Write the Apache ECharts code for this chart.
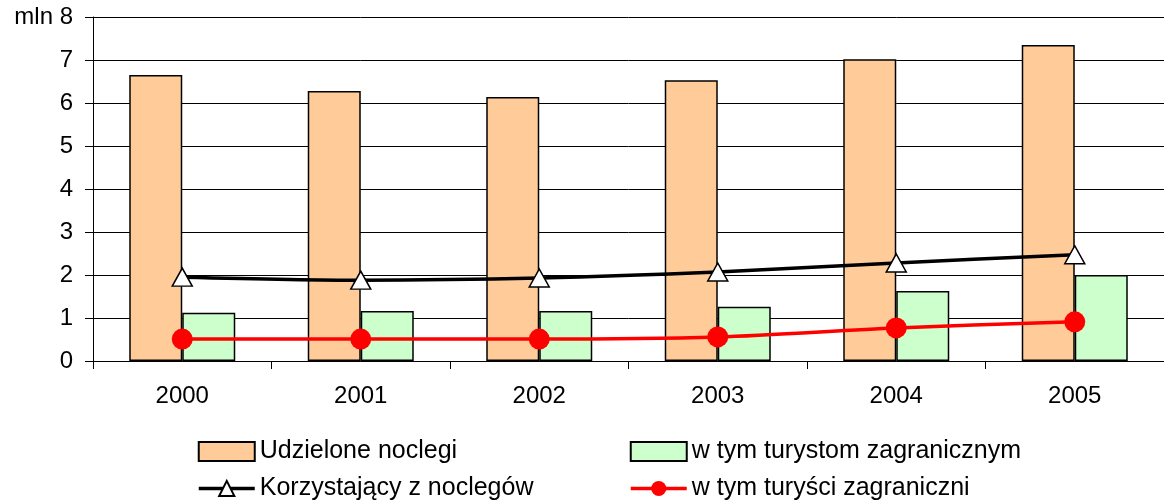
<!DOCTYPE html>
<html><head><meta charset="utf-8">
<script src="https://cdn.jsdelivr.net/npm/echarts@6/dist/echarts.min.js"></script>
<style>html,body{margin:0;padding:0;background:#fff}#c{width:1164px;height:502px}</style>
</head><body><div id="c"></div>
<script>
const years = ['2000','2001','2002','2003','2004','2005'];
const udzielone = [6.65, 6.28, 6.14, 6.53, 7.02, 7.35];
const turystomZagr = [1.12, 1.16, 1.16, 1.26, 1.63, 2.00];
const korzystajacy = [1.95, 1.88, 1.93, 2.07, 2.28, 2.47];
const turysciZagr = [0.51, 0.51, 0.51, 0.56, 0.77, 0.91];
const yTicks = [0,1,2,3,4,5,6,7,8];
const yUnit = 'mln';

const font = '"Liberation Sans", Arial, sans-serif';
const chart = echarts.init(document.getElementById('c'));
const legendText = {fontSize: 25, color: '#000', fontFamily: font, lineHeight: 29};
chart.setOption({
  animation: false,
  textStyle: {fontFamily: font, color: '#000'},
  grid: {left: 93, top: 17, width: 1075, bottom: 141, containLabel: false},
  xAxis: {
    type: 'category', data: years, boundaryGap: true,
    axisLine: {show: true, lineStyle: {color: '#000', width: 1}},
    axisTick: {show: true, length: 8, lineStyle: {color: '#000'}},
    axisLabel: {fontSize: 24, color: '#000', margin: 23, fontFamily: font}
  },
  yAxis: {
    type: 'value', min: yTicks[0], max: yTicks[yTicks.length-1], interval: 1,
    axisLine: {show: true, lineStyle: {color: '#000', width: 1}},
    axisTick: {show: true, length: 8, lineStyle: {color: '#000'}},
    splitLine: {show: true, lineStyle: {color: '#000', width: 1}},
    axisLabel: {fontSize: 24, color: '#000', margin: 20, fontFamily: font,
      formatter: v => v === yTicks[yTicks.length-1] ? yUnit + ' ' + v : String(v)}
  },
  legend: [
    {data: [{name: 'Udzielone noclegi', icon: 'rect'}, 'Korzystający z noclegów'], orient: 'vertical',
     left: 197, top: 437, padding: 0, height: 120, width: 400, itemWidth: 56, itemHeight: 19, itemGap: 8, itemTextGap: 6,
     lineStyle: {width: 3.5}, textStyle: legendText},
    {data: [{name: 'w tym turystom zagranicznym', icon: 'rect'}, 'w tym turyści zagraniczni'], orient: 'vertical',
     left: 629, top: 437, padding: 0, height: 120, width: 500, itemWidth: 56, itemHeight: 19, itemGap: 8, itemTextGap: 7,
     lineStyle: {width: 3.5}, textStyle: legendText}
  ],
  series: [
    {name: 'Udzielone noclegi', type: 'bar', data: udzielone, barWidth: 53, barGap: '0%',
     itemStyle: {color: '#FFCC99', borderColor: '#000', borderWidth: 1.5}},
    {name: 'w tym turystom zagranicznym', type: 'bar', data: turystomZagr, barWidth: 53, barGap: '0%',
     itemStyle: {color: '#CCFFCC', borderColor: '#000', borderWidth: 1.5}},
    {name: 'Korzystający z noclegów', type: 'line', data: korzystajacy, smooth: 0.3,
     symbol: 'triangle', symbolSize: [20, 18],
     lineStyle: {color: '#000', width: 3.5},
     itemStyle: {color: '#fff', borderColor: '#000', borderWidth: 1.5}, z: 5},
    {name: 'w tym turyści zagraniczni', type: 'line', data: turysciZagr, smooth: 0.3,
     symbol: 'circle', symbolSize: 21,
     lineStyle: {color: '#FF0000', width: 3.5},
     itemStyle: {color: '#FF0000', borderColor: '#FF0000', borderWidth: 0}, z: 5}
  ]
});
</script></body></html>
